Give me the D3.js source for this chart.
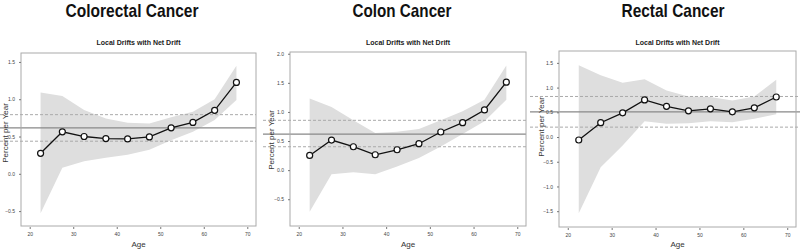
<!DOCTYPE html>
<html>
<head>
<meta charset="utf-8">
<script src="https://cdn.jsdelivr.net/npm/d3@7"></script>
<style>
  body { margin: 0; background: #fff; }
  text { font-family: "Liberation Sans", Arial, sans-serif; }
  .main-title { font-family: "Liberation Sans Narrow", "Arial Narrow", "Liberation Sans", sans-serif; font-weight: bold; }
</style>
</head>
<body>
<svg id="chart" width="800" height="251"></svg>
<script>
// age group midpoints
const ages = [22.5, 27.5, 32.5, 37.5, 42.5, 47.5, 52.5, 57.5, 62.5, 67.5];
const xTicks = [20, 30, 40, 50, 60, 70];

// local drifts (% per year) with 95% CI, net drift [estimate, lower, upper]
const colorectalDrift = [0.275, 0.563, 0.50, 0.473, 0.468, 0.495, 0.617, 0.689, 0.851, 1.225];
const colorectalLower = [-0.53, 0.08, 0.167, 0.216, 0.257, 0.324, 0.45, 0.563, 0.72, 0.99];
const colorectalUpper = [1.09, 1.045, 0.856, 0.743, 0.685, 0.676, 0.757, 0.833, 1.0, 1.45];
const colorectalNet = [0.617, 0.437, 0.793];
const colorectalTicks = [-0.5, 0.0, 0.5, 1.0, 1.5];

const colonDrift = [0.253, 0.517, 0.402, 0.264, 0.35, 0.454, 0.655, 0.816, 1.034, 1.511];
const colonLower = [-0.713, -0.07, -0.035, -0.07, 0.063, 0.207, 0.408, 0.62, 0.84, 1.21];
const colonUpper = [1.23, 1.086, 0.856, 0.638, 0.66, 0.707, 0.856, 1.01, 1.21, 1.80];
const colonNet = [0.62, 0.402, 0.856];
const colonTicks = [-0.5, 0.0, 0.5, 1.0, 1.5, 2.0];

const rectalDrift = [-0.06, 0.29, 0.49, 0.75, 0.62, 0.53, 0.57, 0.51, 0.59, 0.81];
const rectalLower = [-1.54, -0.61, -0.17, 0.32, 0.27, 0.28, 0.32, 0.30, 0.37, 0.46];
const rectalUpper = [1.45, 1.25, 1.10, 1.17, 0.94, 0.82, 0.81, 0.74, 0.82, 1.16];
const rectalNet = [0.51, 0.20, 0.82];
const rectalTicks = [-1.5, -1.0, -0.5, 0.0, 0.5, 1.0, 1.5];

const panels = [
  {title: 'Colorectal Cancer', titleX: 132, titleW: 133, drift: colorectalDrift, lower: colorectalLower, upper: colorectalUpper,
   net: colorectalNet, ticks: colorectalTicks, yDomain: [-0.70, 1.62],
   box: {left: 21, right: 256, top: 53, bottom: 226}, lineX0: 0, lineX1: 256, yTitleX: 5, yTitleY: 133},
  {title: 'Colon Cancer', titleX: 402, titleW: 99, drift: colonDrift, lower: colonLower, upper: colonUpper,
   net: colonNet, ticks: colonTicks, yDomain: [-0.96, 2.03],
   box: {left: 290, right: 526, top: 52, bottom: 226}, lineX0: 263, lineX1: 526, yTitleX: 271, yTitleY: 140},
  {title: 'Rectal Cancer', titleX: 673, titleW: 103, drift: rectalDrift, lower: rectalLower, upper: rectalUpper,
   net: rectalNet, ticks: rectalTicks, yDomain: [-1.82, 1.74],
   box: {left: 559, right: 796, top: 51, bottom: 227}, lineX0: 530, lineX1: 800, yTitleX: 541, yTitleY: 127}
];

const svg = d3.select('#chart');

panels.forEach(p => {
  const b = p.box;
  const x = d3.scaleLinear().domain([18, 72]).range([b.left, b.right]);
  const y = d3.scaleLinear().domain(p.yDomain).range([b.bottom, b.top]);
  const g = svg.append('g');
  const cx = (b.left + b.right) / 2;

  // main title
  g.append('text')
    .attr('class', 'main-title')
    .attr('x', p.titleX)
    .attr('y', 17)
    .attr('text-anchor', 'middle')
    .attr('font-size', 19)
    .attr('textLength', p.titleW)
    .attr('lengthAdjust', 'spacingAndGlyphs')
    .attr('fill', '#111')
    .text(p.title);

  g.append('text')
    .attr('x', cx)
    .attr('y', 45)
    .attr('text-anchor', 'middle')
    .attr('font-size', 7)
    .attr('font-weight', 'bold')
    .attr('fill', '#222')
    .text('Local Drifts with Net Drift');

  // confidence band
  const idx = d3.range(ages.length);
  const area = d3.area()
    .x(i => x(ages[i]))
    .y0(i => y(p.lower[i]))
    .y1(i => y(p.upper[i]));
  g.append('path')
    .datum(idx)
    .attr('d', area)
    .attr('fill', '#dedede');

  // net drift and its CI
  g.append('line')
    .attr('x1', p.lineX0).attr('x2', p.lineX1)
    .attr('y1', y(p.net[0])).attr('y2', y(p.net[0]))
    .attr('stroke', '#888').attr('stroke-width', 1.3);
  [p.net[1], p.net[2]].forEach(v => {
    g.append('line')
      .attr('x1', p.lineX0).attr('x2', p.lineX1)
      .attr('y1', y(v)).attr('y2', y(v))
      .attr('stroke', '#aaa').attr('stroke-width', 1)
      .attr('stroke-dasharray', '3,2');
  });

  // local drift line + points
  const line = d3.line().x(i => x(ages[i])).y(i => y(p.drift[i]));
  g.append('path')
    .datum(idx)
    .attr('d', line)
    .attr('fill', 'none')
    .attr('stroke', '#111')
    .attr('stroke-width', 1.3);
  g.selectAll('circle')
    .data(idx)
    .join('circle')
    .attr('cx', i => x(ages[i]))
    .attr('cy', i => y(p.drift[i]))
    .attr('r', 3)
    .attr('fill', '#fff')
    .attr('stroke', '#111')
    .attr('stroke-width', 1.2);

  // box
  g.append('rect')
    .attr('x', b.left).attr('y', b.top)
    .attr('width', b.right - b.left).attr('height', b.bottom - b.top)
    .attr('fill', 'none')
    .attr('stroke', '#aaa')
    .attr('stroke-width', 1);

  // axes
  const xAxis = d3.axisBottom(x).tickValues(xTicks).tickSize(2).tickPadding(3);
  const xg = g.append('g')
    .attr('transform', `translate(0,${b.bottom + 1})`)
    .call(xAxis);
  const yAxis = d3.axisLeft(y).tickValues(p.ticks).tickSize(2).tickPadding(4).tickFormat(d3.format('.1f'));
  const yg = g.append('g')
    .attr('transform', `translate(${b.left},0)`)
    .call(yAxis);
  [xg, yg].forEach(a => {
    a.select('.domain').remove();
    a.selectAll('line').attr('stroke', '#777');
    a.selectAll('text').attr('font-size', 5).attr('fill', '#444')
      .attr('font-family', '"Liberation Sans", Arial, sans-serif');
  });

  g.append('text')
    .attr('x', cx)
    .attr('y', 247)
    .attr('text-anchor', 'middle')
    .attr('font-size', 8)
    .attr('fill', '#333')
    .text('Age');

  g.append('text')
    .attr('transform', `translate(${p.yTitleX + 3},${p.yTitleY}) rotate(-90)`)
    .attr('text-anchor', 'middle')
    .attr('font-size', 8)
    .attr('fill', '#333')
    .text('Percent per Year');
});
</script>
</body>
</html>
